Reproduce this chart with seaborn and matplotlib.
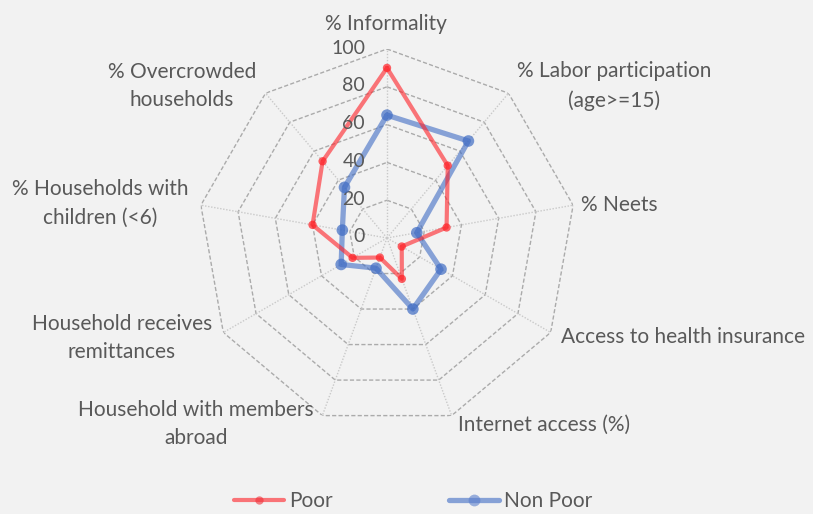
import numpy as np
import pandas as pd
import matplotlib
matplotlib.use("Agg")
import matplotlib.pyplot as plt
import seaborn as sns
from matplotlib.lines import Line2D

categories = [
    "% Informality",
    "% Labor participation\n(age>=15)",
    "% Neets",
    "Access to health insurance",
    "Internet access (%)",
    "Household with members\nabroad",
    "Household receives\nremittances",
    "% Households with\nchildren (<6)",
    "% Overcrowded\nhouseholds",
]
poor = [90, 50, 32, 9, 23, 11, 21, 40, 53]
non_poor = [65, 67, 16, 33, 40, 17, 28, 24, 35]
series_names = ["Poor", "Non Poor"]
ticks = [0, 20, 40, 60, 80, 100]

sns.set_style("white")
plt.rcParams["font.family"] = ["Lato", "DejaVu Sans"]
TXT = "#595959"
BG = "#f2f2f2"
FS = 15

W, H = 813, 514
fig = plt.figure(figsize=(W / 100, H / 100), dpi=100, facecolor=BG)
cx, cy, R = 387, 238, 189
ax = fig.add_axes([(cx - R) / W, 1 - (cy + R) / H, 2 * R / W, 2 * R / H], projection="polar")
ax.set_facecolor(BG)
ax.patch.set_alpha(0)
ax.set_theta_offset(np.pi / 2)
ax.set_theta_direction(-1)
ax.set_ylim(0, 100)
ax.grid(False)
ax.spines["polar"].set_visible(False)
ax.set_xticks([])
ax.set_yticks([])

n = len(categories)
theta = np.arange(n) * 2 * np.pi / n
theta_c = np.append(theta, theta[0])

# grid rings (polygons) and spokes
for r in ticks[1:]:
    ax.plot(theta_c, [r] * (n + 1), color="#ababab", lw=1.0, ls=(0, (3, 1.6)), zorder=1)
for t in theta:
    ax.plot([t, t], [0, 100], color="#c9c9c9", lw=1.0, ls=(0, (1, 1.2)), zorder=1)

df = pd.DataFrame({
    "theta": np.concatenate([theta_c, theta_c]),
    "value": poor + [poor[0]] + non_poor + [non_poor[0]],
    "series": ["Poor"] * (n + 1) + ["Non Poor"] * (n + 1),
})

styles = {
    "Poor": dict(color="#ff1f25", lw=3.0, ms=36, alpha=0.6),
    "Non Poor": dict(color="#3f6cc4", lw=3.8, ms=70, alpha=0.6),
}
for s in ["Non Poor", "Poor"]:
    d = df[df.series == s]
    st = styles[s]
    sns.lineplot(data=d, x="theta", y="value", sort=False, ax=ax, color=st["color"],
                 lw=st["lw"], alpha=st["alpha"], legend=False, zorder=3,
                 estimator=None)
    sns.scatterplot(data=d.iloc[:-1], x="theta", y="value", ax=ax, color=st["color"],
                    s=st["ms"], alpha=0.7, edgecolor="none", legend=False, zorder=4)
ax.set_xlabel("")
ax.set_ylabel("")
ax.set_ylim(0, 100)

# radial tick labels
for r in ticks:
    ax.annotate(str(r), xy=(0, r), xytext=(-22, 1), textcoords="offset pixels",
                ha="right", va="center", fontsize=14, color=TXT)

# category labels (pixel centers)
label_pos = [
    (386, 24), (614, 86), (619, 205), (683, 337), (544, 425),
    (196, 424), (122, 338), (100, 203), (182, 86),
]
for lab, (x, y) in zip(categories, label_pos):
    fig.text(x / W, 1 - y / H, lab, ha="center", va="center", fontsize=FS,
             color=TXT, linespacing=1.55, multialignment="center")

handles = [
    Line2D([], [], color=styles["Poor"]["color"], lw=3, alpha=0.6, marker="o",
           markersize=6, markerfacecolor="#f03038", markeredgecolor="none"),
    Line2D([], [], color=styles["Non Poor"]["color"], lw=3.8, alpha=0.6, marker="o",
           markersize=8.5, markerfacecolor="#5b7fcc", markeredgecolor="none"),
]
leg = fig.legend(handles, series_names, loc="center", bbox_to_anchor=(413 / W, 1 - 501 / H),
                 ncol=2, frameon=False, fontsize=FS, handlelength=2.4,
                 handletextpad=0.25, columnspacing=5.6, labelcolor=TXT)

fig.savefig("out.png", dpi=100, facecolor=BG)
